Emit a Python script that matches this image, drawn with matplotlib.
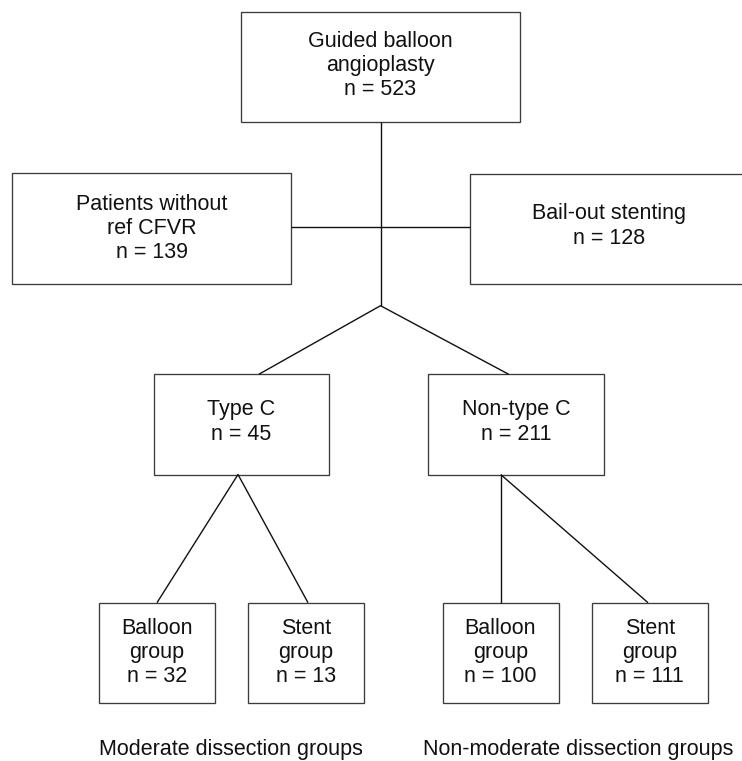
import matplotlib
matplotlib.use("Agg")
import matplotlib.pyplot as plt
from matplotlib.patches import Rectangle

# ---- data ----
node_labels = ["Guided balloon\nangioplasty", "Patients without\nref CFVR", "Bail-out stenting",
               "Type C", "Non-type C",
               "Balloon\ngroup", "Stent\ngroup", "Balloon\ngroup", "Stent\ngroup"]
node_counts = [523, 139, 128, 45, 211, 32, 13, 100, 111]
group_captions = ["Moderate dissection groups", "Non-moderate dissection groups"]

# ---- layout (pixel coordinates, y downwards) ----
boxes = [  # x0, y0, x1, y1
    (241, 11.7, 520, 121.7),
    (12, 173, 291, 284),
    (470, 174, 749, 284),
    (153.6, 374.3, 328.5, 474.5),
    (428.4, 374.3, 603.6, 474.5),
    (99, 602.7, 215, 703),
    (248, 602.7, 364, 703),
    (442.5, 602.7, 558.5, 703),
    (592, 602.7, 707.7, 703),
]
text_y_offset = [-1, 0, -3, -2.5, -2.5, -0.5, -0.5, -0.5, -0.5]
connectors = [
    [(380.5, 121.7), (380.5, 305.7)],
    [(291, 227), (470, 227)],
    [(258.8, 374.3), (380.5, 305.7), (508.7, 374.3)],
    [(157, 602.7), (238, 474.5), (308, 602.7)],
    [(500.7, 474.5), (500.7, 602.7)],
    [(500.7, 474.5), (648, 602.7)],
]
caption_pos = [(231, 755.5), (578, 755.5)]

W, H = 742, 761
fig = plt.figure(figsize=(W / 100, H / 100), dpi=100)
ax = fig.add_axes([0, 0, 1, 1])
ax.set_xlim(0, W)
ax.set_ylim(H, 0)
ax.axis("off")

font = dict(family=["Liberation Sans", "DejaVu Sans"], fontsize=15.5, color="#111111")

for (x0, y0, x1, y1), lab, n, dy in zip(boxes, node_labels, node_counts, text_y_offset):
    ax.add_patch(Rectangle((x0, y0), x1 - x0, y1 - y0, fill=False,
                           edgecolor="#3c3c3c", linewidth=0.95, clip_on=True))
    ax.text((x0 + x1) / 2, (y0 + y1) / 2 + dy, f"{lab}\nn = {n}",
            ha="center", va="center", linespacing=1.2, **font)

for pts in connectors:
    xs = [p[0] for p in pts]
    ys = [p[1] for p in pts]
    ax.plot(xs, ys, color="#111111", linewidth=1.0, solid_capstyle="butt")

for (cx, cy), cap in zip(caption_pos, group_captions):
    ax.text(cx, cy, cap, ha="center", va="baseline", **font)

fig.savefig("out.png", dpi=100)
